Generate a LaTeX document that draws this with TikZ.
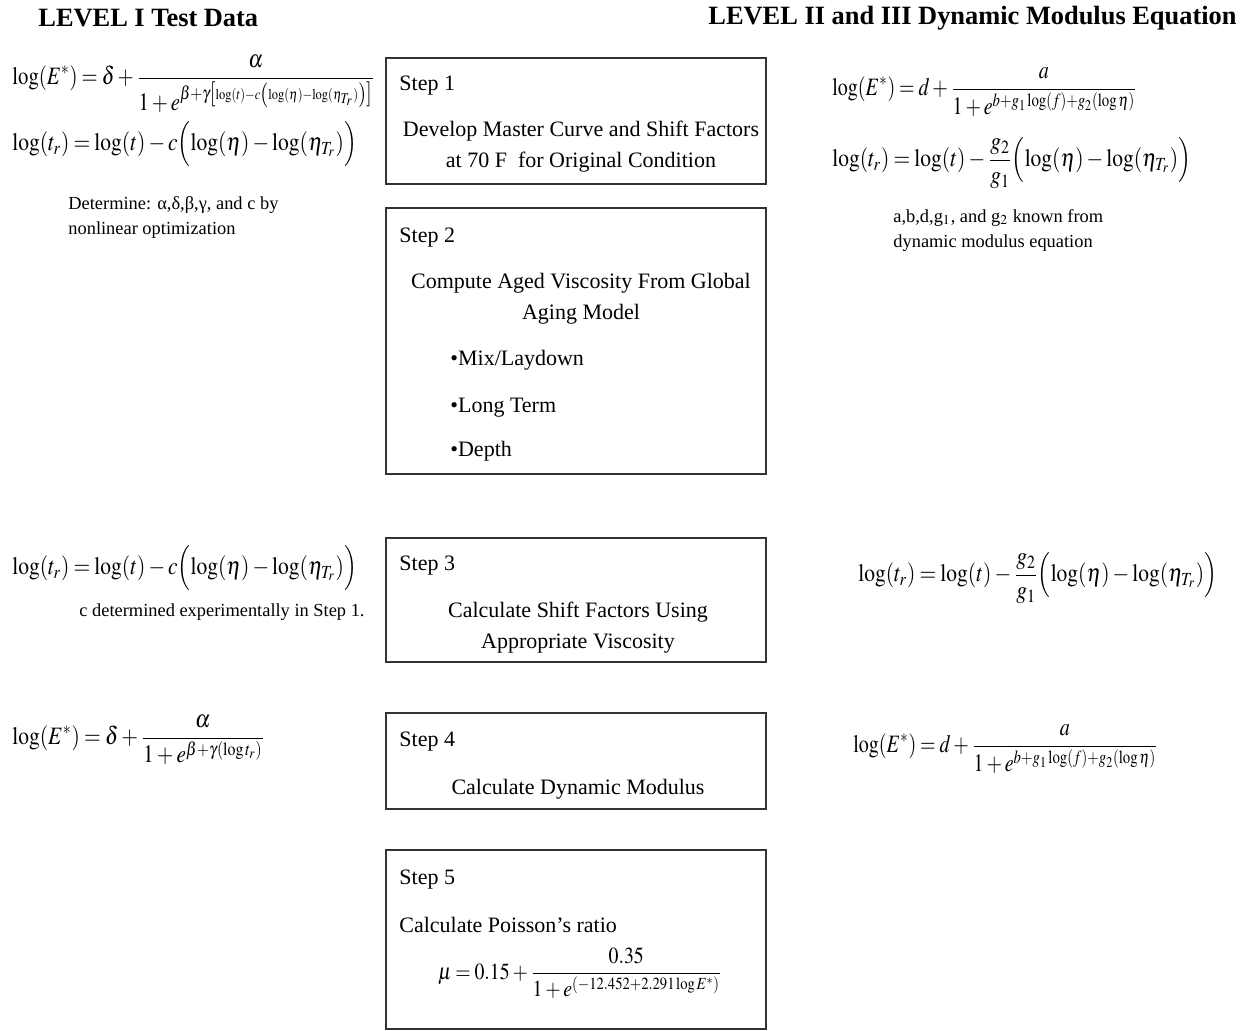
\documentclass[tikz,border=0pt]{standalone}
\usepackage{graphicx}
\usepackage{mathptmx}
\usepackage{fontspec}
\setmainfont{Liberation Serif}
\newcommand{\sq}[2][0.86]{\scalebox{#1}[1]{#2}}
\begin{document}
\thinmuskip=2mu \medmuskip=2.5mu \thickmuskip=3.5mu
\begin{tikzpicture}[x=0.5pt,y=-0.5pt,
  stepbox/.style={draw=black!80, line width=1pt, anchor=north west, inner sep=0pt},
  txt/.style={font=\fontsize{11}{15.5}\selectfont, inner sep=0pt},
  small/.style={font=\fontsize{9.2}{12.5}\selectfont, inner sep=0pt, align=left},
  eq/.style={font=\fontsize{12.5}{15}\selectfont, inner sep=0pt, anchor=west},
  title/.style={font=\fontsize{13.2}{16}\selectfont\bfseries, inner sep=0pt}]
\path[use as bounding box] (0,0) rectangle (1249,1030);

% titles
\node[title, anchor=west] (t1) at (38,18) {LEVEL I Test Data};
\node[title, anchor=east] (t2) at (1237,18) {LEVEL II and III Dynamic Modulus Equation};

% step boxes
\node[stepbox, minimum width=190pt, minimum height=63pt] (s1) at (385,57) {};
\node[stepbox, minimum width=190pt, minimum height=133pt] (s2) at (385,207) {};
\node[stepbox, minimum width=190pt, minimum height=62pt] (s3) at (385,537) {};
\node[stepbox, minimum width=190pt, minimum height=48pt] (s4) at (385,712) {};
\node[stepbox, minimum width=190pt, minimum height=89.5pt] (s5) at (385,849) {};

% step 1
\node[txt, anchor=west] (s1l) at (399,86) {Step 1};
\node[txt, align=center] (s1t) at (581,147) {Develop Master Curve and Shift Factors\\at 70 F\ \ for Original Condition};
% step 2
\node[txt, anchor=west] (s2l) at (399,238) {Step 2};
\node[txt, align=center] (s2t) at (581,299) {Compute Aged Viscosity From Global\\Aging Model};
\node[txt, anchor=west] (b1) at (450,360) {•Mix/Laydown};
\node[txt, anchor=west] (b2) at (450,408) {•Long Term};
\node[txt, anchor=west] (b3) at (450,451) {•Depth};
% step 3
\node[txt, anchor=west] (s3l) at (399,566) {Step 3};
\node[txt, align=center] (s3t) at (578,628) {Calculate Shift Factors Using\\Appropriate Viscosity};
% step 4
\node[txt, anchor=west] (s4l) at (399,742) {Step 4};
\node[txt] (s4t) at (578,789) {Calculate Dynamic Modulus};
% step 5
\node[txt, anchor=west] (s5l) at (399,880) {Step 5};
\node[txt, anchor=west] (s5t) at (399,925) {Calculate Poisson’s ratio};
\node[eq, anchor=center, font=\fontsize{11.5}{14}\selectfont] (s5e) at (580,973)
  {\sq{$\displaystyle \mu = 0.15+\frac{0.35}{1+e^{(-12.452+2.291\log E^*)}}$}};

% left column
\node[eq] (l1) at (12,84)
  {\sq[0.83]{$\displaystyle \log(E^*) = \delta + \frac{\alpha}{1+e^{\beta+\gamma\left[\scriptscriptstyle\log(t)-c\left(\log(\eta)-\log(\eta_{T_r})\right)\right]}}$}};
\node[eq] (l2) at (12,144)
  {\sq{$\displaystyle \log(t_r) = \log(t) - c\Bigl(\log(\eta) - \log(\eta_{T_r})\Bigr)$}};
\node[small, anchor=west] (l3) at (68,217) {Determine: α,δ,β,γ, and c by\\nonlinear optimization};

\node[eq] (l4) at (12,568)
  {\sq{$\displaystyle \log(t_r) = \log(t) - c\Bigl(\log(\eta) - \log(\eta_{T_r})\Bigr)$}};
\node[small, anchor=west] (l5) at (79,612) {c determined experimentally in Step 1.};

\node[eq] (l6) at (12,740)
  {\sq{$\displaystyle \log(E^*) = \delta + \frac{\alpha}{1+e^{\beta+\gamma(\log t_r)}}$}};

% right column
\node[eq] (r1) at (832,92)
  {\sq[0.8]{$\displaystyle \log(E^*) = d + \frac{a}{1+e^{b+g_1\log(f)+g_2(\log\eta)}}$}};
\node[eq] (r2) at (832,163)
  {\sq{$\displaystyle \log(t_r) = \log(t) - \frac{g_2}{g_1}\Bigl(\log(\eta) - \log(\eta_{T_r})\Bigr)$}};
\node[small, anchor=west] (r3) at (893,230) {a,b,d,g$_1$, and g$_2$ known from\\dynamic modulus equation};

\node[eq] (r4) at (858,578)
  {\sq{$\displaystyle \log(t_r) = \log(t) - \frac{g_2}{g_1}\Bigl(\log(\eta) - \log(\eta_{T_r})\Bigr)$}};

\node[eq] (r5) at (853,749)
  {\sq[0.8]{$\displaystyle \log(E^*) = d + \frac{a}{1+e^{b+g_1\log(f)+g_2(\log\eta)}}$}};
\end{tikzpicture}
\end{document}
